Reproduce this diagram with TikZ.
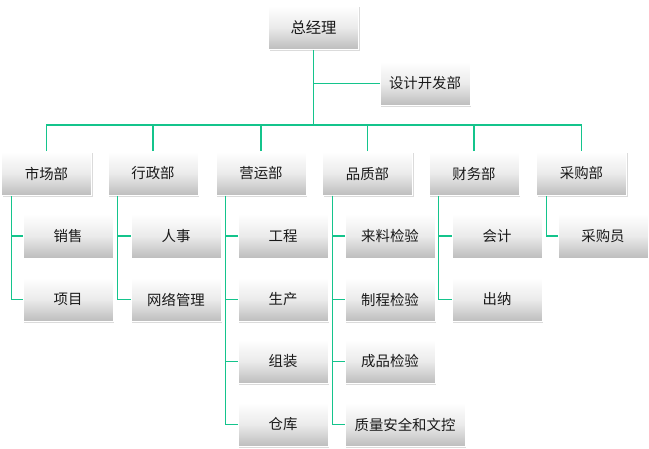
\documentclass[tikz,border=0pt]{standalone}
\usepackage{fontspec}
\setmainfont{Noto Sans CJK SC}
\usetikzlibrary{shadows}
\definecolor{linkc}{RGB}{20,196,140}
\definecolor{txtc}{RGB}{25,25,25}
\tikzset{
  box/.style={rectangle, minimum width=67.5pt, minimum height=33pt, inner sep=0pt,
    top color=white, bottom color=black!26, middle color=black!8,
    draw=white, line width=0.4pt, text=txtc, font=\fontsize{10.8pt}{12pt}\selectfont,
    drop shadow={shadow xshift=0.9pt, shadow yshift=-0.9pt, opacity=0.35, fill=black!40}},
  widebox/.style={box, minimum width=90pt},
  link/.style={draw=linkc, line width=1pt}
}
\begin{document}
\begin{tikzpicture}[x=0.75pt, y=-0.75pt]
\fill[white] (0,0) rectangle (649,449);
\useasboundingbox (0,0) rectangle (649,449);
% top
\node[box, font=\fontsize{11.5pt}{13pt}\selectfont] (top) at (313.5,27.5) {总经理};
\node[box] (dev) at (425,83.5) {设计开发部};
% level 2
\node[box] (m1) at (46.5,173.5) {市场部};
\node[box] (m2) at (153,173.5) {行政部};
\node[box] (m3) at (261,173.5) {营运部};
\node[box] (m4) at (367.5,173.5) {品质部};
\node[box] (m5) at (474,173.5) {财务部};
\node[box] (m6) at (581.5,173.5) {采购部};
% children
\node[box] (c11) at (68,236) {销售};
\node[box] (c12) at (68,299.5) {项目};
\node[box] (c21) at (176,236) {人事};
\node[box] (c22) at (176,299.5) {网络管理};
\node[box] (c31) at (283,236) {工程};
\node[box] (c32) at (283,299.5) {生产};
\node[box] (c33) at (283,361.5) {组装};
\node[box] (c34) at (283,424.5) {仓库};
\node[box] (c41) at (390,236) {来料检验};
\node[box] (c42) at (390,299.5) {制程检验};
\node[box] (c43) at (390,361.5) {成品检验};
\node[widebox] (c44) at (405,424.5) {质量安全和文控};
\node[box] (c51) at (497,236) {会计};
\node[box] (c52) at (497,299.5) {出纳};
\node[box] (c61) at (603,236) {采购员};
% connectors
\coordinate (bus) at (313.5,125);
\draw[link] (top.south) -- (bus);
\draw[link] (top.south |- dev.west) -- (dev.west);
\draw[link] (m1.north) |- (bus) -| (m6.north);
\foreach \m in {m2,m3,m4,m5}{\draw[link] (\m.north) -- (\m.north |- bus);}
\draw[link] ([xshift=7.5pt]m1.south west) |- (c11.west);
\draw[link] ([xshift=7.5pt]m1.south west) |- (c12.west);
\draw[link] ([xshift=7.5pt]m2.south west) |- (c21.west);
\draw[link] ([xshift=7.5pt]m2.south west) |- (c22.west);
\draw[link] ([xshift=7.5pt]m3.south west) |- (c31.west);
\draw[link] ([xshift=7.5pt]m3.south west) |- (c32.west);
\draw[link] ([xshift=7.5pt]m3.south west) |- (c33.west);
\draw[link] ([xshift=7.5pt]m3.south west) |- (c34.west);
\draw[link] ([xshift=7.5pt]m4.south west) |- (c41.west);
\draw[link] ([xshift=7.5pt]m4.south west) |- (c42.west);
\draw[link] ([xshift=7.5pt]m4.south west) |- (c43.west);
\draw[link] ([xshift=7.5pt]m4.south west) |- (c44.west);
\draw[link] ([xshift=7.5pt]m5.south west) |- (c51.west);
\draw[link] ([xshift=7.5pt]m5.south west) |- (c52.west);
\draw[link] ([xshift=7.5pt]m6.south west) |- (c61.west);
\end{tikzpicture}
\end{document}
